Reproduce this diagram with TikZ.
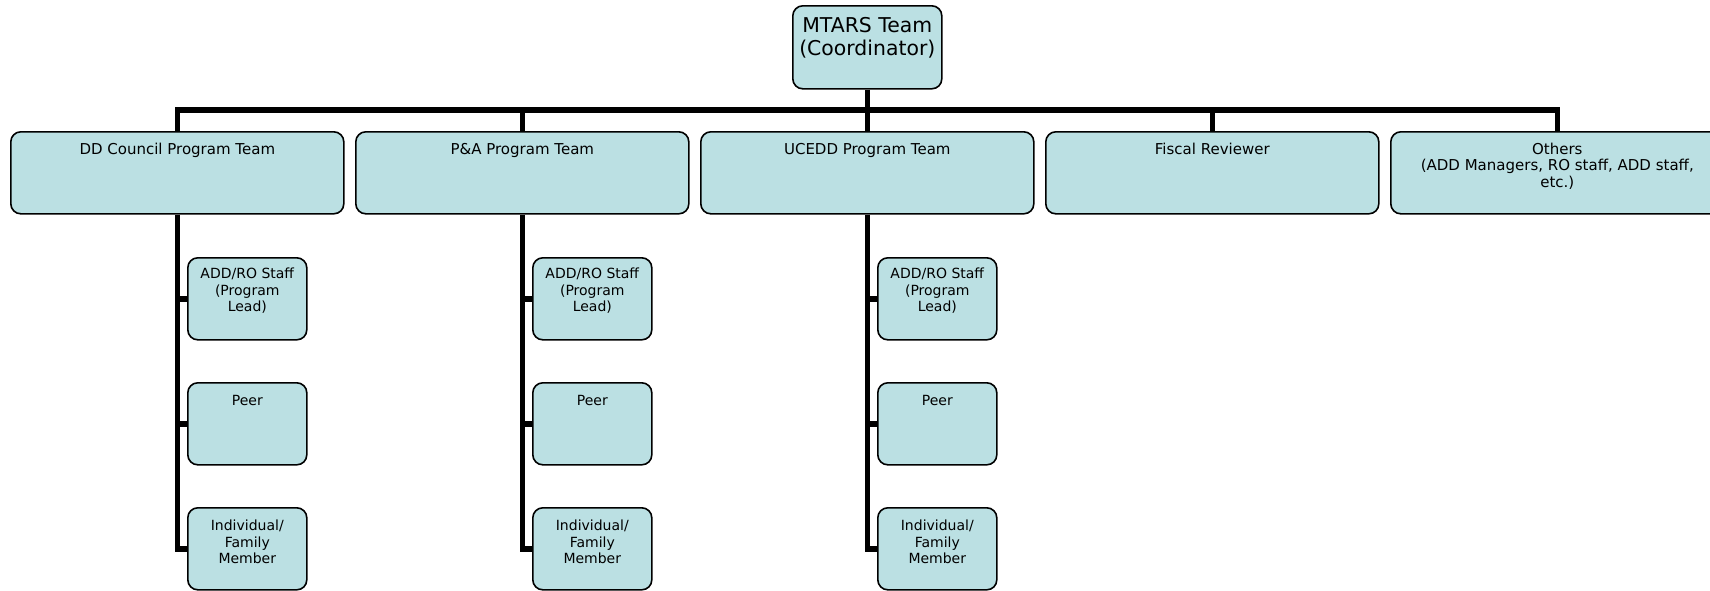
\documentclass[tikz,border=0pt]{standalone}
\usepackage{fontspec}
\setmainfont{DejaVu Sans}
\definecolor{boxfill}{RGB}{187,224,227}
\newcommand\toptext[1]{\parbox[t][83pt][t]{149pt}{\centering\fontsize{20.4pt}{22.7pt}\selectfont\rule{0pt}{26.7pt}#1}}
\newcommand\teamtext[1]{\parbox[t][82pt][t]{333pt}{\centering\fontsize{15pt}{16.5pt}\selectfont\rule{0pt}{22.6pt}#1}}
\newcommand\subtext[2]{\parbox[t][82pt][t]{119pt}{\centering\fontsize{14pt}{16.2pt}\selectfont\rule{0pt}{#1}#2}}
\begin{document}
\begin{tikzpicture}[x=1pt,y=1pt,
  orgbox/.style={draw=black, fill=boxfill, line width=1.6pt, rounded corners=10pt, inner sep=0pt, anchor=north west},
  conn/.style={draw=black, line width=5.5pt}]
\useasboundingbox (0,0) rectangle (1710,-590);
% top node
\node[orgbox] (mtars) at (792,-5) {\toptext{MTARS Team\\(Coordinator)}};
% team nodes
\node[orgbox] (dd) at (10,-131) {\teamtext{DD Council Program Team}};
\node[orgbox] (pa) at (355,-131) {\teamtext{P\&A Program Team}};
\node[orgbox] (uc) at (700,-131) {\teamtext{UCEDD Program Team}};
\node[orgbox] (fr) at (1045,-131) {\teamtext{Fiscal Reviewer}};
\node[orgbox] (ot) at (1390,-131) {\teamtext{Others\\(ADD Managers, RO staff, ADD staff,\\etc.)}};
% sub nodes
\foreach \t/\x in {dd/187, pa/532, uc/877}{
  \node[orgbox] (\t a) at (\x,-257) {\subtext{21pt}{ADD/RO Staff\\(Program\\Lead)}};
  \node[orgbox] (\t p) at (\x,-382) {\subtext{23pt}{Peer}};
  \node[orgbox] (\t i) at (\x,-507) {\subtext{23pt}{Individual/\\Family\\Member}};
}
% bus
\coordinate (bus) at (0,-110);
\draw[conn] (dd.north) -- (dd.north |- bus) -- (ot.north |- bus) -- (ot.north);
\draw[conn] (mtars.south) -- (mtars.south |- bus);
\foreach \t in {pa,uc,fr}{
  \draw[conn] (\t.north) -- (\t.north |- bus);
}
% sub connectors
\foreach \t in {dd,pa,uc}{
  \draw[conn] (\t.south) |- (\t i.west);
  \draw[conn] (\t.south |- \t a.west) -- (\t a.west);
  \draw[conn] (\t.south |- \t p.west) -- (\t p.west);
}
\end{tikzpicture}
\end{document}
